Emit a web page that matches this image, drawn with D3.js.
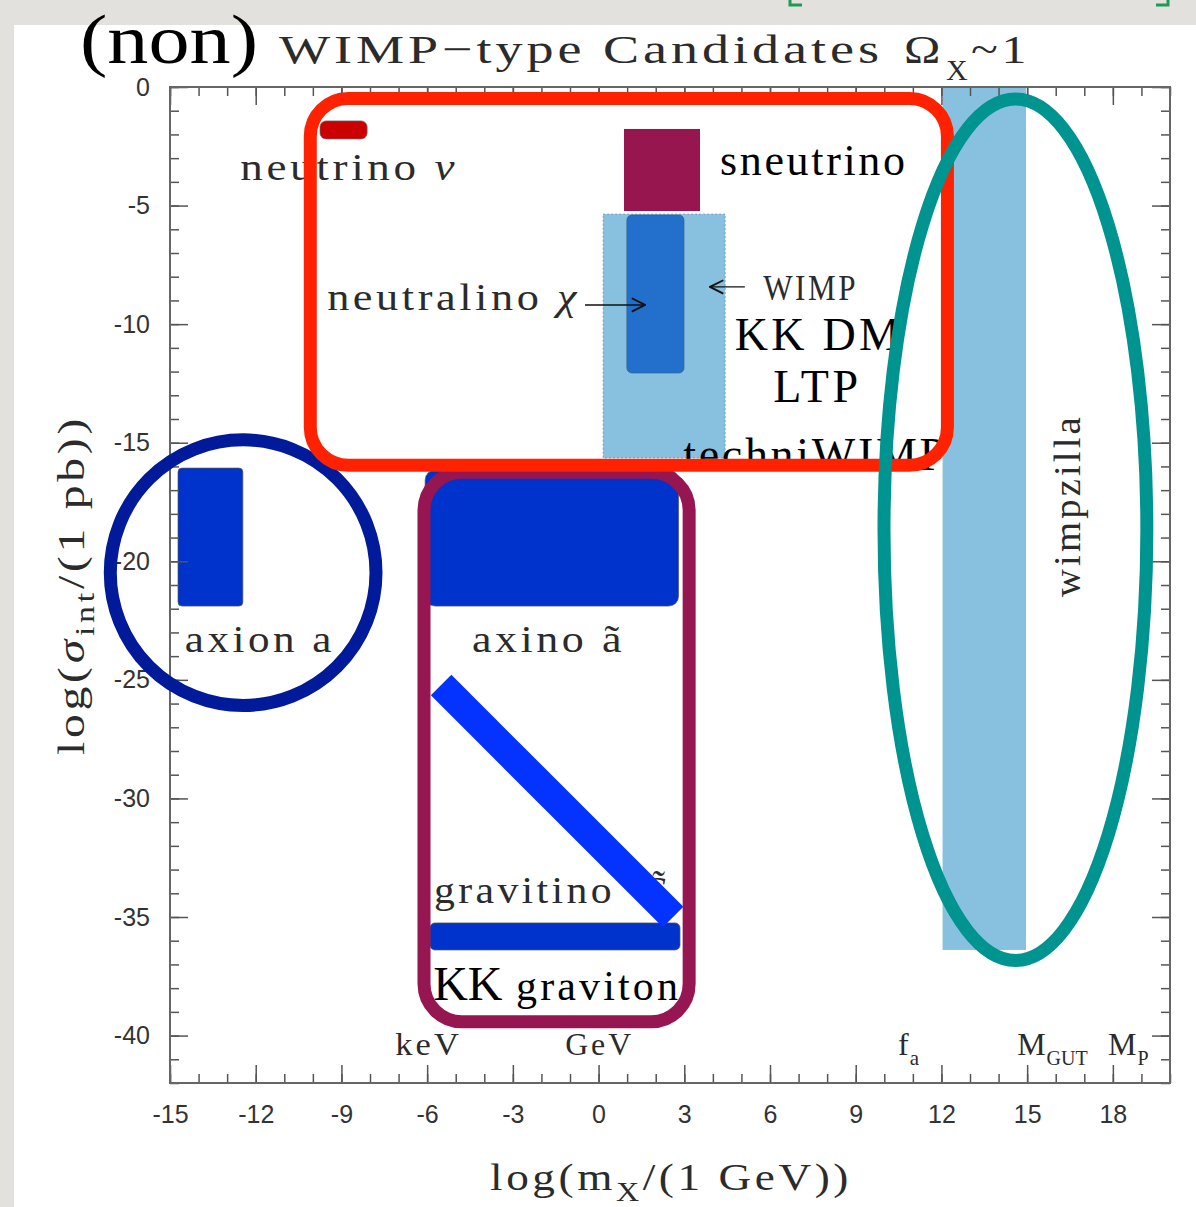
<!DOCTYPE html>
<html>
<head>
<meta charset="utf-8">
<script src="https://cdn.jsdelivr.net/npm/d3@7"></script>
<style>
  body { margin: 0; background: #e3e1dd; }
  svg { display: block; }
  .cm { font-family: "Liberation Serif", serif; fill: #2b2b2b; letter-spacing: 3px; }
  .bk { font-family: "Liberation Serif", serif; fill: #000; }
  .tick text { font-family: "Liberation Sans", Arial, sans-serif; font-size: 25px; fill: #333; }
  .tick line { stroke: #555; stroke-width: 1.5px; }
</style>
</head>
<body>
<svg id="chart" width="1196" height="1207"></svg>
<script>
  // axis ranges, log10 units
  var massDomain = [-15, 20];
  var sigmaDomain = [0, -42];
  var xMajor = d3.range(-15, 19, 3);
  var xMinor = d3.range(-15, 21, 1);
  var yMajor = d3.range(0, -41, -5);
  var yMinor = d3.range(0, -43, -1);

  // candidate regions: log(m/GeV) and log(sigma/pb)
  var candidates = ["wimpzilla", "WIMP", "sneutrino", "neutrino", "neutralino", "axion", "axino", "KK graviton"];
  var massLo  = [12.04, 0.16, 0.89, -9.75, 0.99, -14.72, -6.07, -5.90];
  var massHi  = [14.96, 4.43, 3.55, -8.10, 2.99, -12.45,  2.80,  2.85];
  var sigmaHi = [0,     -5.36, -1.77, -1.43, -5.40, -16.07, -16.15, -35.25];
  var sigmaLo = [-36.39, -15.64, -5.23, -2.19, -12.06, -21.89, -21.89, -36.39];

  // gravitino band end points
  var gravitinoMass  = [-5.51, 2.61];
  var gravitinoSigma = [-25.22, -35.0];

  // hand drawn groupings on top
  var groups = ["WIMP-like", "axion", "superweak", "wimpzilla"];
  var groupMassLo  = [-10.09, -17.09, -6.11, 9.99];
  var groupMassHi  = [12.21, -7.79, 3.17, 19.19];
  var groupSigmaHi = [-0.48, -14.88, -16.25, -0.51];
  var groupSigmaLo = [-15.95, -26.08, -39.42, -36.83];

  var boxStyle = {
    "wimpzilla":   { fill: "#88c1df", stroke: "none", rx: 0 },
    "WIMP":        { fill: "#88c1df", stroke: "#5d86a8", rx: 0, dash: "2,2" },
    "sneutrino":   { fill: "#971650", stroke: "none", rx: 0 },
    "neutrino":    { fill: "#cc0000", stroke: "#666", rx: 6 },
    "neutralino":  { fill: "#2270cc", stroke: "#3b5f8a", rx: 5 },
    "axion":       { fill: "#0033cc", stroke: "#555", rx: 4 },
    "axino":       { fill: "#0033cc", stroke: "#555", rx: 10 },
    "KK graviton": { fill: "#0033cc", stroke: "#555", rx: 5 }
  };
  var groupStyle = {
    "WIMP-like": { color: "#ff2200", shape: "rect" },
    "axion":     { color: "#001a99", shape: "ellipse" },
    "superweak": { color: "#961651", shape: "rect" },
    "wimpzilla": { color: "#009490", shape: "ellipse" }
  };

  var svg = d3.select("#chart");

  var x = d3.scaleLinear().domain(massDomain).range([170, 1170]);
  var y = d3.scaleLinear().domain(sigmaDomain).range([87, 1083]);

  // slide background
  svg.append("rect").attr("width", 1196).attr("height", 1207).attr("fill", "#e3e1dd");
  svg.append("rect").attr("x", 14).attr("y", 25).attr("width", 1182).attr("height", 1182).attr("fill", "#fff");
  svg.append("path").attr("d", "M790,0V5H802M1168,0V5H1156")
    .attr("fill", "none").attr("stroke", "#1f9a55").attr("stroke-width", 3);

  var defs = svg.append("defs");
  defs.append("marker").attr("id", "arrow")
    .attr("viewBox", "0 0 12 12").attr("refX", 11).attr("refY", 6)
    .attr("markerWidth", 16).attr("markerHeight", 16)
    .attr("markerUnits", "userSpaceOnUse").attr("orient", "auto")
    .append("path").attr("d", "M1,1L11,6L1,11")
    .attr("fill", "none").attr("stroke", "#111").attr("stroke-width", 1.4);

  // candidate boxes
  svg.append("g").attr("class", "boxes")
    .selectAll("rect").data(candidates).join("rect")
    .attr("x", function(d, i) { return x(massLo[i]); })
    .attr("y", function(d, i) { return y(sigmaHi[i]); })
    .attr("width", function(d, i) { return x(massHi[i]) - x(massLo[i]); })
    .attr("height", function(d, i) { return y(sigmaLo[i]) - y(sigmaHi[i]); })
    .attr("rx", function(d) { return boxStyle[d].rx; })
    .attr("fill", function(d) { return boxStyle[d].fill; })
    .attr("stroke", function(d) { return boxStyle[d].stroke; })
    .attr("stroke-opacity", 0.7)
    .attr("stroke-width", 1)
    .attr("stroke-dasharray", function(d) { return boxStyle[d].dash || null; });

  // axes, ticks pointing inward
  function axis(gen, values, size, labels, pad) {
    var a = gen.tickValues(values).tickSize(size).tickPadding(pad || 3);
    a.tickFormat(labels ? function(d) { return String(d); } : "");
    return a;
  }
  var axes = svg.append("g").attr("class", "axes");
  var yBot = y(sigmaDomain[1]), yTop = y(sigmaDomain[0]);
  var xLeft = x(massDomain[0]), xRight = x(massDomain[1]);
  axes.append("g").attr("transform", "translate(0," + yBot + ")").call(axis(d3.axisBottom(x), xMinor, -9, false));
  axes.append("g").attr("transform", "translate(0," + yBot + ")").call(axis(d3.axisBottom(x), xMajor, -18, true, 22));
  axes.append("g").attr("transform", "translate(0," + yTop + ")").call(axis(d3.axisTop(x), xMinor, -9, false));
  axes.append("g").attr("transform", "translate(0," + yTop + ")").call(axis(d3.axisTop(x), xMajor, -18, false));
  axes.append("g").attr("transform", "translate(" + xLeft + ",0)").call(axis(d3.axisLeft(y), yMinor, -9, false));
  axes.append("g").attr("transform", "translate(" + xLeft + ",0)").call(axis(d3.axisLeft(y), yMajor, -18, true, 20));
  axes.append("g").attr("transform", "translate(" + xRight + ",0)").call(axis(d3.axisRight(y), yMinor, -9, false));
  axes.append("g").attr("transform", "translate(" + xRight + ",0)").call(axis(d3.axisRight(y), yMajor, -18, false));
  axes.selectAll(".domain").remove();
  svg.append("rect").attr("x", xLeft).attr("y", yTop)
    .attr("width", xRight - xLeft).attr("height", yBot - yTop)
    .attr("fill", "none").attr("stroke", "#666").attr("stroke-width", 2);

  // in-plot labels, anchored in data units
  var labels = [
    { parts: [["neutrino "], ["ν", "italic"]], x: -12.54, y: -3.92, cls: "cm", size: 37, len: 218 },
    { parts: [["sneutrino"]], x: 4.25, y: -3.71, cls: "bk", size: 44, len: 185 },
    { parts: [["neutralino "], ["χ", "italic"]], x: -9.5, y: -9.40, cls: "cm", size: 37, len: 253 },
    { parts: [["WIMP"]], x: 5.76, y: -8.98, cls: "cm", size: 36, len: 95 },
    { parts: [["KK DM"]], x: 4.77, y: -11.09, cls: "bk", size: 46, len: 165 },
    { parts: [["LTP"]], x: 6.11, y: -13.28, cls: "bk", size: 46, len: 85 },
    { parts: [["techniWIMP"]], x: 2.96, y: -16.15, cls: "bk", size: 46, len: 262 },
    { parts: [["axion a"]], x: -14.48, y: -23.83, cls: "cm", size: 37, len: 150 },
    { parts: [["axino ã"]], x: -4.43, y: -23.83, cls: "cm", size: 37, len: 153 },
    { parts: [["gravitino"]], x: -5.76, y: -34.41, cls: "cm", size: 37, len: 181 },
    { parts: [["G\u0303", "italic"]], x: 1.45, y: -34.41, cls: "cm", size: 37 },
    { parts: [["KK"]], x: -5.79, y: -38.5, cls: "bk", size: 48 },
    { parts: [["graviton"]], x: -2.89, y: -38.5, cls: "bk", size: 42, len: 162 },
    { parts: [["keV"]], x: -7.12, y: -40.82, cls: "cm", size: 32, len: 67 },
    { parts: [["GeV"]], x: -1.17, y: -40.82, cls: "cm", size: 32, len: 69 },
    { parts: [["f"], ["a", null, 21, 10]], x: 10.48, y: -40.82, cls: "cm", size: 32 },
    { parts: [["M"], ["GUT", null, 20, 10]], x: 14.65, y: -40.82, cls: "cm", size: 32 },
    { parts: [["M"], ["P", null, 20, 10]], x: 17.83, y: -40.82, cls: "cm", size: 32 }
  ];

  var labelG = svg.append("g").attr("class", "labels");
  labels.forEach(function(l) {
    var t = labelG.append("text").attr("class", l.cls)
      .attr("x", x(l.x)).attr("y", y(l.y))
      .style("font-size", l.size + "px");
    if (l.len) {
      t.attr("textLength", l.len);
      if (l.cls === "cm") t.attr("lengthAdjust", "spacingAndGlyphs");
    } else {
      t.style("letter-spacing", "0px");
    }
    l.parts.forEach(function(p) {
      var s = t.append("tspan").text(p[0]);
      if (p[1]) s.style("font-style", p[1]);
      if (p[2]) s.style("font-size", p[2] + "px").attr("dy", p[3]).attr("dx", 1);
    });
  });

  // wimpzilla label runs upward
  svg.append("text").attr("class", "cm")
    .attr("transform", "translate(1080," + y(-17.65) + ") rotate(-90)")
    .attr("text-anchor", "middle")
    .attr("textLength", 183).attr("lengthAdjust", "spacingAndGlyphs")
    .style("font-size", "37px")
    .text("wimpzilla");

  // gravitino band
  svg.append("line")
    .attr("x1", x(gravitinoMass[0])).attr("y1", y(gravitinoSigma[0]))
    .attr("x2", x(gravitinoMass[1])).attr("y2", y(gravitinoSigma[1]))
    .attr("stroke", "#0433ff").attr("stroke-width", 29);

  // arrows
  var arrows = [[-0.475, 1.63, -9.19], [5.12, 3.9, -8.43]];
  svg.append("g").selectAll("line").data(arrows).join("line")
    .attr("x1", function(d) { return x(d[0]); })
    .attr("x2", function(d) { return x(d[1]); })
    .attr("y1", function(d) { return y(d[2]); })
    .attr("y2", function(d) { return y(d[2]); })
    .attr("stroke", "#111").attr("stroke-width", 1.4)
    .attr("marker-end", "url(#arrow)");

  // group outlines
  var order = [2, 1, 0, 3];
  var gg = svg.append("g").attr("class", "groups");
  order.forEach(function(i) {
    var st = groupStyle[groups[i]];
    var x0 = x(groupMassLo[i]), x1 = x(groupMassHi[i]);
    var y0 = y(groupSigmaHi[i]), y1 = y(groupSigmaLo[i]);
    var el;
    if (st.shape === "rect") {
      el = gg.append("rect").attr("x", x0).attr("y", y0)
        .attr("width", x1 - x0).attr("height", y1 - y0).attr("rx", 38);
    } else {
      el = gg.append("ellipse").attr("cx", (x0 + x1) / 2).attr("cy", (y0 + y1) / 2)
        .attr("rx", (x1 - x0) / 2).attr("ry", (y1 - y0) / 2);
    }
    el.attr("fill", "none").attr("stroke", st.color).attr("stroke-width", 13);
  });

  // title
  svg.append("text").attr("class", "bk").attr("x", 80).attr("y", 63)
    .attr("textLength", 178).attr("lengthAdjust", "spacingAndGlyphs")
    .style("font-size", "70px").text("(non)");
  svg.append("text").attr("class", "cm").attr("x", 279).attr("y", 63)
    .attr("textLength", 604).attr("lengthAdjust", "spacingAndGlyphs")
    .style("font-size", "41px")
    .text("WIMP\u2212type Candidates");
  svg.append("text").attr("class", "cm").attr("x", 904).attr("y", 63)
    .attr("textLength", 40).attr("lengthAdjust", "spacingAndGlyphs")
    .style("font-size", "41px").text("Ω");
  svg.append("text").attr("class", "cm").attr("x", 946).attr("y", 80)
    .style("font-size", "30px").style("letter-spacing", "0px").text("X");
  svg.append("text").attr("class", "cm").attr("x", 971).attr("y", 63)
    .attr("textLength", 59).attr("lengthAdjust", "spacingAndGlyphs")
    .style("font-size", "41px").text("~1");

  // axis titles
  var xt = svg.append("text").attr("class", "cm")
    .attr("x", 671).attr("y", 1190).attr("text-anchor", "middle")
    .attr("textLength", 362).attr("lengthAdjust", "spacingAndGlyphs")
    .style("font-size", "38px");
  xt.append("tspan").text("log(m");
  xt.append("tspan").text("X").style("font-size", "27px").attr("dy", 11);
  xt.append("tspan").text("/(1 GeV))").attr("dy", -11);

  var yt = svg.append("text").attr("class", "cm")
    .attr("transform", "translate(84,585) rotate(-90)")
    .attr("text-anchor", "middle")
    .attr("textLength", 340).attr("lengthAdjust", "spacingAndGlyphs")
    .style("font-size", "38px");
  yt.append("tspan").text("log(");
  yt.append("tspan").text("σ").style("font-style", "italic");
  yt.append("tspan").text("int").style("font-size", "27px").attr("dy", 10);
  yt.append("tspan").text("/(1 pb))").attr("dy", -10);
</script>
</body>
</html>
